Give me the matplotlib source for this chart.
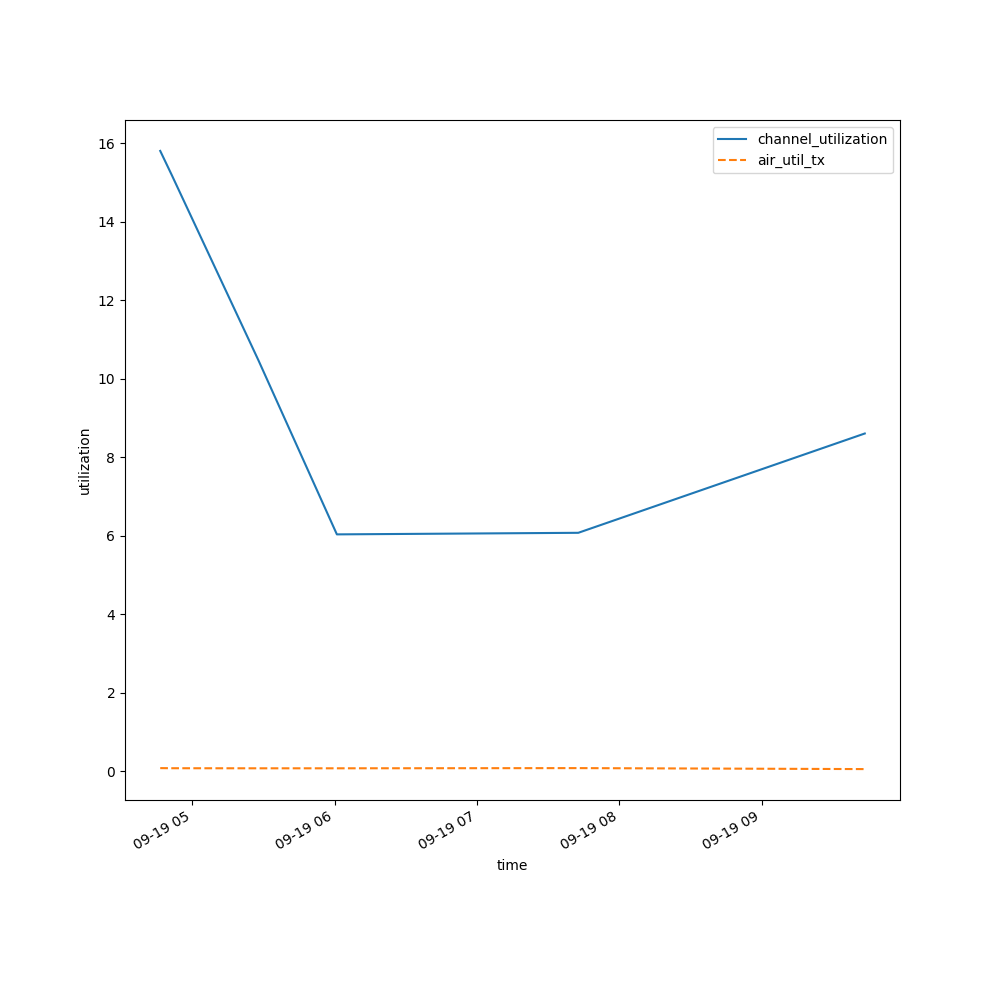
import matplotlib
matplotlib.use("Agg")
import matplotlib.pyplot as plt
import matplotlib.dates as mdates
import pandas as pd

times = pd.to_datetime([
    "2024-09-19 04:46:36",
    "2024-09-19 04:51:30",
    "2024-09-19 05:28:00",
    "2024-09-19 06:01:00",
    "2024-09-19 07:42:40",
    "2024-09-19 09:43:20",
])
channel_utilization = [15.8, 15.18, 10.46, 6.03, 6.07, 8.6]
air_util_tx = [0.075, 0.072, 0.07, 0.07, 0.075, 0.05]

fig, ax = plt.subplots(figsize=(10, 10), dpi=100)
ax.plot(times, channel_utilization, label="channel_utilization")
ax.plot(times, air_util_tx, linestyle="--", label="air_util_tx")
ax.set_xlabel("time")
ax.set_ylabel("utilization")
ax.xaxis.set_major_locator(mdates.HourLocator())
ax.xaxis.set_major_formatter(mdates.DateFormatter("%m-%d %H"))
ax.legend()
fig.autofmt_xdate()
fig.savefig("out.png")
